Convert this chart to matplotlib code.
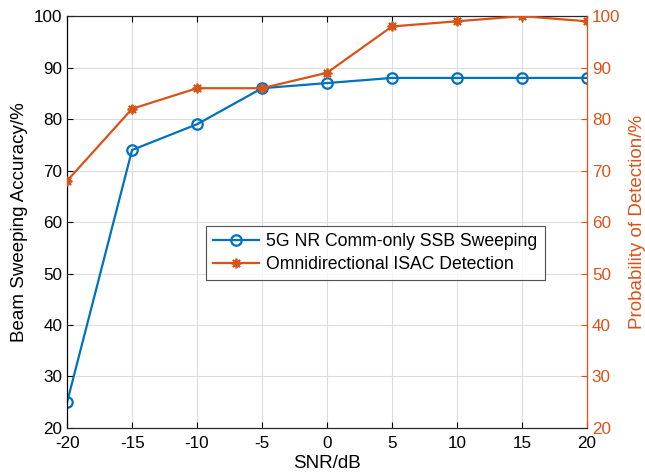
import matplotlib
matplotlib.use('Agg')
import matplotlib.pyplot as plt
import numpy as np

plt.rcParams['font.family'] = ['Liberation Sans', 'DejaVu Sans']
plt.rcParams['axes.unicode_minus'] = False

snr = [-20, -15, -10, -5, 0, 5, 10, 15, 20]
ssb_acc = [25, 74, 79, 86, 87, 88, 88, 88, 88]
isac_pd = [68, 82, 86, 86, 89, 98, 99, 100, 99]

blue = '#0072BD'
orange = '#D95319'

fig = plt.figure(figsize=(6.45, 4.75), dpi=100)
ax = fig.add_axes([0.104, 0.099, 0.806, 0.867])
ax2 = ax.twinx()

l1, = ax.plot(snr, ssb_acc, color=blue, lw=1.6, marker='o', ms=7.5, mfc='none', mew=1.6,
              label='5G NR Comm-only SSB Sweeping', zorder=3)
l2, = ax2.plot(snr, isac_pd, color=orange, lw=1.6, marker=(8, 2, 0), ms=7, mew=1.3,
               label='Omnidirectional ISAC Detection', zorder=3)

for a in (ax, ax2):
    a.set_xlim(-20, 20)
    a.set_ylim(20, 100)
    a.set_yticks(np.arange(20, 101, 10))
ax.set_xticks(np.arange(-20, 21, 5))
ax.grid(True, color='#dcdcdc', lw=0.8)
ax.set_axisbelow(True)

ax.tick_params(axis='both', direction='in', labelsize=12.3, length=4, top=True)
ax.tick_params(axis='x', pad=6)
ax2.tick_params(axis='y', direction='in', labelsize=12.3, length=4, colors=orange)

ax.set_xlabel('SNR/dB', fontsize=13.5, labelpad=3)
ax.set_ylabel('Beam Sweeping Accuracy/%', fontsize=13.5, labelpad=4)
ax2.set_ylabel('Probability of Detection/%', fontsize=13.5, color=orange, labelpad=6)

for s in ('top', 'bottom'):
    ax2.spines[s].set_color('#262626')
ax2.spines['left'].set_color('black')
ax2.spines['right'].set_color(orange)
for sp in ax2.spines.values():
    sp.set_linewidth(0.8)

leg = ax2.legend(handles=[l1, l2], loc='upper left', bbox_to_anchor=(0.268, 0.49),
                 fontsize=12.7, frameon=True, fancybox=False, edgecolor='#262626',
                 handlelength=2.6, borderpad=0.4, labelspacing=0.35, handletextpad=0.4,
                 borderaxespad=0)
leg.get_frame().set_linewidth(0.8)

fig.savefig('out.png', dpi=100)
